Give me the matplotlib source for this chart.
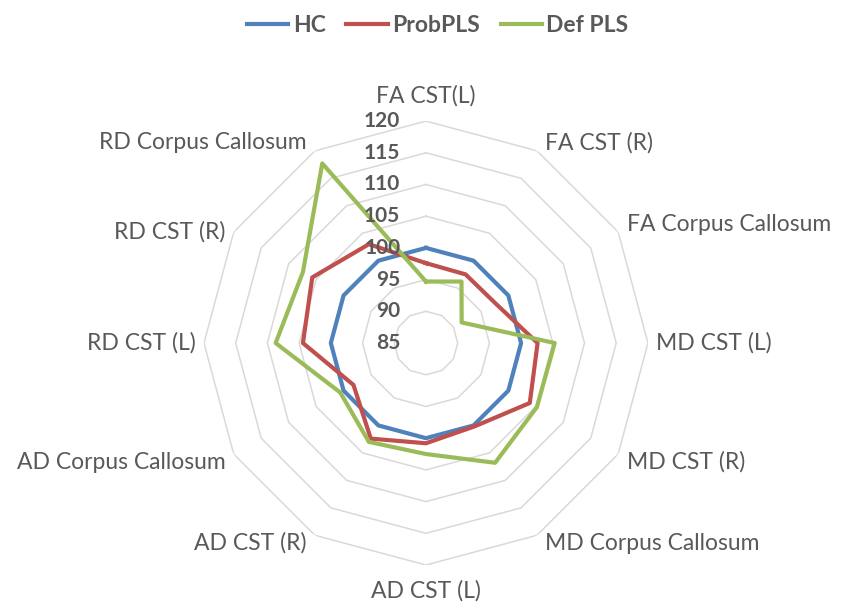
import numpy as np
from matplotlib import pyplot as plt

plt.rcParams['font.family'] = ['Lato', 'DejaVu Sans']

# %%
categories = ['FA CST(L)', 'FA CST (R)', 'FA Corpus Callosum', 'MD CST (L)',
              'MD CST (R)', 'MD Corpus Callosum', 'AD CST (L)', 'AD CST (R)',
              'AD Corpus Callosum', 'RD CST (L)', 'RD CST (R)', 'RD Corpus Callosum']
hc = [100, 100, 100, 100, 100, 100, 100, 100, 100, 100, 100, 100]
prob_pls = [97.6, 97.5, 97.6, 102.6, 103.9, 100.2, 100.8, 102.4, 98.2, 104.4, 105.7, 103.0]
def_pls = [94.7, 96.2, 91.5, 105.3, 105.2, 106.8, 102.5, 103.0, 100.6, 108.7, 107.4, 117.7]
series_names = ['HC', 'ProbPLS', 'Def PLS']
ring_values = [90, 95, 100, 105, 110, 115, 120]
tick_values = [85, 90, 95, 100, 105, 110, 115, 120]

colors = ['#4F81BD', '#C0504D', '#9BBB59']
text_color = '#595959'

# %%
fig = plt.figure(figsize=(8.45, 6.09), dpi=100)
ax = fig.add_axes([0.2414, 0.0722, 0.5254, 0.729], projection='polar')
ax.set_theta_zero_location('N')
ax.set_theta_direction(-1)
ax.set_ylim(85, 120)
ax.grid(False)
ax.spines['polar'].set_visible(False)
ax.set_xticks([])
ax.set_yticks([])

n = len(categories)
angles = np.arange(n) * 2 * np.pi / n
closed = np.append(angles, angles[0])

# gridline polygons
for v in ring_values:
    ax.plot(closed, [v] * (n + 1), color='#D9D9D9', lw=1.1, zorder=1)

for name, vals, c in zip(series_names, [hc, prob_pls, def_pls], colors):
    ax.plot(closed, list(vals) + [vals[0]], color=c, lw=3.0, label=name, zorder=3)

# radial tick labels
for v in tick_values:
    ax.annotate(str(v), xy=(0, v), xytext=(-18.5, 0), textcoords='offset points',
                ha='right', va='center', fontsize=15, fontweight='bold', color=text_color)

# category labels
fs = 16.5
for ang, lab in zip(angles, categories):
    deg = np.degrees(ang)
    if np.isclose(deg, 0):
        ax.text(ang, 124.0, lab, ha='center', va='center', fontsize=fs, color=text_color)
    elif np.isclose(deg, 180):
        ax.text(ang, 124.0, lab, ha='center', va='center', fontsize=fs, color=text_color)
    else:
        ha = 'left' if deg < 180 else 'right'
        dy = 0
        if deg < 60 or deg > 300:
            dy = 8
        elif 100 < deg < 260:
            dy = -8
        ax.annotate(lab, xy=(ang, 120), xytext=(6 if ha == 'left' else -6, dy * 0.72),
                    textcoords='offset points', ha=ha, va='center',
                    fontsize=fs, color=text_color, annotation_clip=False)

leg = fig.legend(loc='upper center', bbox_to_anchor=(0.518, 1.01), ncol=3, frameon=False,
                 prop={'weight': 'bold', 'size': 16.5}, handlelength=1.8,
                 columnspacing=0.9, handletextpad=0.2)
for line in leg.get_lines():
    line.set_linewidth(3.0)
for t in leg.get_texts():
    t.set_color(text_color)

fig.savefig('out.png', dpi=100)
